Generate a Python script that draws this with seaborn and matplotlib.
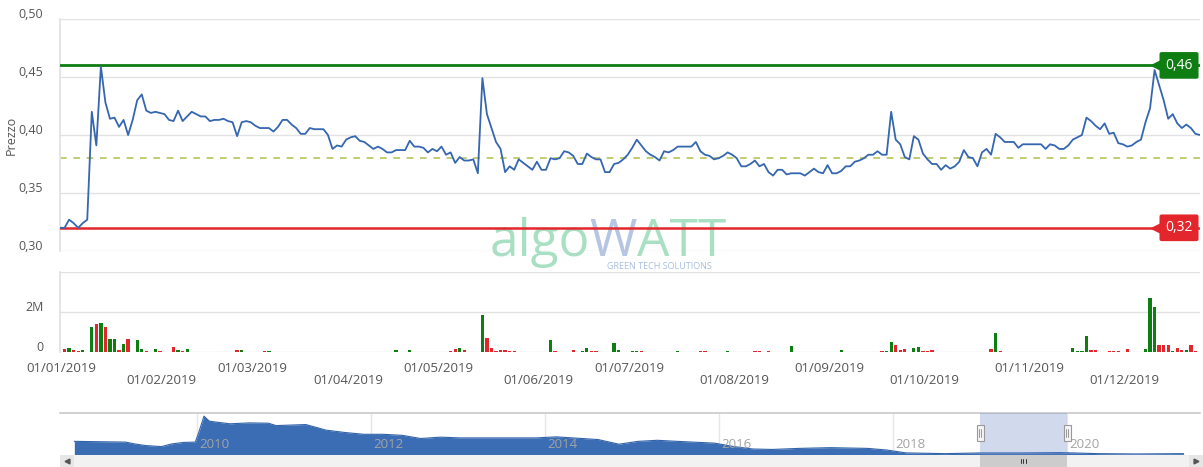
import numpy as np
import pandas as pd
import matplotlib
matplotlib.use("Agg")
import matplotlib.pyplot as plt
import matplotlib.transforms as mtransforms
from matplotlib.patches import Rectangle
from matplotlib.lines import Line2D
import seaborn as sns

# ---------------- data ----------------
holidays = ["2019-01-01", "2019-04-19", "2019-04-22", "2019-05-01", "2019-08-15",
            "2019-12-24", "2019-12-25", "2019-12-26", "2019-12-31"]
trade_dates = pd.bdate_range("2019-01-02", "2019-12-30", freq="C", holidays=holidays)

price = [
    0.320, 0.320, 0.327, 0.324, 0.320, 0.324, 0.327, 0.420, 0.391, 0.459,
    0.428, 0.414, 0.415, 0.407, 0.413, 0.400, 0.413, 0.430, 0.435, 0.421,
    0.419, 0.420, 0.419, 0.418, 0.413, 0.412, 0.421, 0.412, 0.416, 0.420,
    0.418, 0.416, 0.416, 0.412, 0.413, 0.413, 0.414, 0.412, 0.411, 0.399,
    0.411, 0.412, 0.411, 0.408, 0.406, 0.406, 0.406, 0.403, 0.407, 0.413,
    0.413, 0.409, 0.406, 0.401, 0.401, 0.406, 0.405, 0.405, 0.405, 0.400,
    0.388, 0.391, 0.390, 0.396, 0.398, 0.399, 0.395, 0.394, 0.391, 0.388,
    0.390, 0.388, 0.385, 0.385, 0.387, 0.387, 0.387, 0.395, 0.390, 0.390,
    0.389, 0.385, 0.388, 0.386, 0.390, 0.383, 0.385, 0.376, 0.381, 0.378,
    0.378, 0.379, 0.367, 0.449, 0.418, 0.406, 0.394, 0.388, 0.368, 0.373,
    0.370, 0.379, 0.376, 0.373, 0.370, 0.377, 0.370, 0.370, 0.380, 0.379,
    0.380, 0.386, 0.385, 0.382, 0.375, 0.375, 0.384, 0.381, 0.379, 0.379,
    0.368, 0.368, 0.375, 0.376, 0.379, 0.383, 0.389, 0.396, 0.391, 0.386,
    0.383, 0.381, 0.378, 0.386, 0.385, 0.387, 0.390, 0.390, 0.390, 0.390,
    0.394, 0.386, 0.383, 0.382, 0.379, 0.380, 0.382, 0.385, 0.383, 0.380,
    0.373, 0.373, 0.375, 0.378, 0.373, 0.375, 0.368, 0.365, 0.370, 0.370,
    0.366, 0.367, 0.367, 0.367, 0.365, 0.368, 0.371, 0.368, 0.367, 0.374,
    0.367, 0.367, 0.369, 0.373, 0.373, 0.377, 0.378, 0.380, 0.383, 0.383,
    0.386, 0.383, 0.383, 0.420, 0.396, 0.392, 0.381, 0.379, 0.399, 0.396,
    0.384, 0.379, 0.375, 0.375, 0.370, 0.374, 0.371, 0.373, 0.377, 0.387,
    0.381, 0.380, 0.373, 0.385, 0.388, 0.383, 0.401, 0.398, 0.394, 0.394,
    0.394, 0.389, 0.392, 0.392, 0.392, 0.392, 0.392, 0.388, 0.392, 0.391,
    0.388, 0.388, 0.391, 0.396, 0.398, 0.400, 0.415, 0.412, 0.408, 0.405,
    0.410, 0.401, 0.402, 0.393, 0.392, 0.390, 0.391, 0.394, 0.396, 0.411,
    0.423, 0.456, 0.443, 0.430, 0.414, 0.418, 0.410, 0.406, 0.409, 0.406,
    0.401, 0.400,
]

resistance = 0.46
support = 0.32
avg_level = 0.38

vol_day = [1, 2, 3, 4, 5, 7, 8, 9, 10, 11, 12, 13, 14, 15, 17, 18, 19, 21, 22, 25,
           26, 27, 28, 39, 40, 45, 46, 54, 60, 63, 74, 77, 86, 87, 88, 89, 93, 94, 95, 96,
           97, 98, 99, 100, 105, 108, 109, 113, 115, 116, 117, 118, 121, 122, 123, 126, 127, 128, 136, 141,
           142, 147, 153, 154, 156, 161, 172, 181, 182, 183, 184, 185, 186, 188, 189, 190, 191, 192, 194, 196,
           200, 203, 205, 206, 207, 210, 213, 215, 216, 220, 223, 224, 225, 226, 227, 228, 231, 232, 233, 235,
           239, 240, 241, 242, 243, 244, 245, 246, 247, 248, 249, 250]
vol_mln = [0.13, 0.20, 0.10, 0.05, 0.10, 1.25, 1.40, 1.47, 1.25, 0.67, 0.67, 0.10, 0.42, 0.67, 0.62, 0.17, 0.03, 0.17, 0.03, 0.27,
           0.10, 0.05, 0.17, 0.08, 0.12, 0.07, 0.03, 0.02, 0.02, 0.02, 0.10, 0.08, 0.05, 0.17, 0.20, 0.08, 1.87, 0.68, 0.20, 0.07,
           0.08, 0.12, 0.05, 0.07, 0.02, 0.58, 0.03, 0.12, 0.03, 0.22, 0.03, 0.03, 0.02, 0.45, 0.08, 0.03, 0.03, 0.03, 0.07, 0.05,
           0.07, 0.03, 0.03, 0.03, 0.03, 0.28, 0.08, 0.07, 0.07, 0.48, 0.33, 0.08, 0.17, 0.20, 0.25, 0.07, 0.05, 0.12, 0.02, 0.02,
           0.02, 0.02, 0.17, 0.95, 0.05, 0.02, 0.02, 0.02, 0.02, 0.02, 0.20, 0.07, 0.07, 0.78, 0.08, 0.10, 0.03, 0.03, 0.03, 0.17,
           0.17, 2.70, 2.25, 0.33, 0.33, 0.37, 0.05, 0.20, 0.12, 0.10, 0.35, 0.05]
vol_dir = ["r", "g", "r", "r", "g", "g", "r", "g", "r", "g", "g", "r", "g", "r", "g", "g", "r", "g", "r", "r",
           "g", "r", "g", "r", "g", "r", "g", "g", "r", "g", "g", "g", "r", "r", "g", "r", "g", "r", "r", "r",
           "r", "r", "r", "r", "g", "g", "r", "r", "g", "g", "r", "r", "g", "g", "g", "g", "g", "r", "g", "r",
           "r", "g", "r", "r", "r", "g", "g", "r", "g", "g", "r", "r", "r", "g", "g", "r", "r", "r", "g", "g",
           "g", "g", "r", "g", "r", "g", "g", "g", "g", "r", "g", "g", "g", "g", "r", "r", "r", "r", "r", "r",
           "g", "g", "g", "r", "r", "r", "g", "r", "r", "g", "r", "r"]

price_ticks = [0.30, 0.35, 0.40, 0.45, 0.50]
vol_ticks = [0, 2, 4]
vol_tick_labels = ["0", "2M", ""]
month_labels = ["01/01/2019", "01/02/2019", "01/03/2019", "01/04/2019", "01/05/2019", "01/06/2019",
                "01/07/2019", "01/08/2019", "01/09/2019", "01/10/2019", "01/11/2019", "01/12/2019"]

nav_year = [2008.59, 2009.18, 2009.28, 2009.41, 2009.59, 2009.71, 2009.85, 2009.98, 2010.02, 2010.08,
            2010.14, 2010.21, 2010.38, 2010.60, 2010.82, 2010.91, 2011.25, 2011.37, 2011.48, 2011.70,
            2011.92, 2012.14, 2012.36, 2012.57, 2012.80, 2013.02, 2013.46, 2013.90, 2014.13, 2014.61,
            2014.85, 2015.07, 2015.29, 2015.52, 2015.95, 2016.17, 2016.39, 2016.61, 2016.92, 2017.28,
            2017.71, 2017.93, 2018.15, 2018.60, 2019.03, 2019.47, 2019.92, 2020.36, 2020.79, 2021.34]
nav_val = [0.755, 0.73, 0.67, 0.615, 0.58, 0.67, 0.72, 0.73, 1.05, 1.595,
           1.43, 1.40, 1.34, 1.37, 1.36, 1.28, 1.315, 1.22, 1.13, 1.05,
           0.99, 0.99, 0.955, 0.85, 0.895, 0.87, 0.87, 0.87, 0.905, 0.815,
           0.66, 0.755, 0.79, 0.755, 0.695, 0.58, 0.50, 0.485, 0.52, 0.545,
           0.52, 0.465, 0.37, 0.345, 0.37, 0.37, 0.38, 0.345, 0.335, 0.345]
nav_year_ticks = [2010, 2012, 2014, 2016, 2018, 2020]
sel_start, sel_end = 2019.0, 2020.0

# ---------------- style ----------------
sns.set_theme(style="white")
plt.rcParams["font.family"] = ["Open Sans", "DejaVu Sans"]

GREEN = "#0e7d12"
RED = "#e2262c"
LINE = "#3566b0"
GRID = "#e2e2e2"
TXT = "#555555"

W, H = 1203, 467
fig = plt.figure(figsize=(W / 100, H / 100), dpi=100)


def rect(l, t, r, b):
    return [l / W, 1 - b / H, (r - l) / W, (b - t) / H]


ax_p = fig.add_axes(rect(60, 19, 1200, 251))
ax_v = fig.add_axes(rect(60, 272, 1200, 352))
ax_n = fig.add_axes(rect(60, 413, 1200, 455))
ax_s = fig.add_axes(rect(60, 455, 1203, 467))

label_shift = mtransforms.ScaledTranslation(0, 4 / 72, fig.dpi_scale_trans)

# ---------------- price panel ----------------
n = len(price)
df = pd.DataFrame({"idx": np.arange(n), "price": price})
sns.lineplot(data=df, x="idx", y="price", ax=ax_p, color=LINE, linewidth=1.3, zorder=4)
ax_p.axhline(resistance, color=GREEN, lw=2.0, zorder=3)
ax_p.axhline(support, color=RED, lw=1.8, zorder=3)
ax_p.axhline(avg_level, color="#b7c35a", lw=1.2, ls=(0, (4, 4)), zorder=2)
ax_p.set_xlim(0, n - 1)
ax_p.set_ylim(0.30, 0.50)
ax_p.set_yticks(price_ticks)
ax_p.set_yticklabels([f"{t:.2f}".replace(".", ",") for t in price_ticks])
ax_p.yaxis.grid(True, color=GRID, lw=1)
ax_p.xaxis.grid(False)
ax_p.set_xlabel("")
ax_p.set_ylabel("Prezzo", color=TXT, fontsize=9)
ax_p.yaxis.set_label_coords(-0.037, 0.5)
ax_p.tick_params(left=False, bottom=False, labelbottom=False, labelsize=9,
                 labelcolor=TXT, pad=6)
for lab in ax_p.get_yticklabels():
    lab.set_transform(lab.get_transform() + label_shift)
for s in ["top", "right", "bottom"]:
    ax_p.spines[s].set_visible(False)
ax_p.spines["left"].set_color(GRID)

# flags for levels
bt = mtransforms.blended_transform_factory(ax_p.transAxes, ax_p.transData)
for val, col in [(resistance, GREEN), (support, RED)]:
    ax_p.text(0.9816, val, f"{val:.2f}".replace(".", ","), transform=bt, ha="center",
              va="center", color="white", fontsize=10, zorder=6, clip_on=False,
              bbox=dict(boxstyle="round,pad=0.42,rounding_size=0.15", fc=col, ec="none"))
    ax_p.plot([0.9615], [val], marker="<", color=col, markersize=7, transform=bt,
              clip_on=False, zorder=6)

# watermark (pieces chained one after another)
wm_algo = ax_p.text(0.4645, -0.075, "algo", transform=ax_p.transAxes, ha="right",
                    va="bottom", fontsize=37, color="#a9e0c4", zorder=1, clip_on=False)
wm_w = ax_p.annotate("W", xy=(1, 0), xycoords=wm_algo, ha="left", va="bottom",
                     fontsize=37, color="#b6c5e2", zorder=1, annotation_clip=False)
wm_att = ax_p.annotate("ATT", xy=(1, 0), xycoords=wm_w, ha="left", va="bottom",
                       fontsize=37, color="#a9e0c4", zorder=1, annotation_clip=False)
ax_p.text(0.526, -0.068, "GREEN TECH SOLUTIONS", transform=ax_p.transAxes, ha="center",
          va="center", fontsize=6.5, color="#a9bde0", zorder=1, clip_on=False)

# ---------------- volume panel ----------------
colors = [GREEN if d == "g" else RED for d in vol_dir]
ax_v.bar(vol_day, vol_mln, width=0.72, color=colors, linewidth=0, zorder=3)
ax_v.set_xlim(0, n - 1)
ax_v.set_ylim(0, 4)
ax_v.set_yticks(vol_ticks)
ax_v.set_yticklabels(vol_tick_labels)
ax_v.yaxis.grid(True, color=GRID, lw=1)
ax_v.xaxis.grid(False)
ax_v.tick_params(left=False, bottom=False, labelbottom=False, labelsize=9,
                 labelcolor=TXT, pad=6)
for lab in ax_v.get_yticklabels():
    lab.set_transform(lab.get_transform() + label_shift)
for s in ["top", "right", "bottom"]:
    ax_v.spines[s].set_visible(False)
ax_v.spines["left"].set_color(GRID)

month_starts = pd.date_range("2019-01-01", periods=12, freq="MS")
month_idx = [int(np.searchsorted(trade_dates.values, m.to_datetime64())) for m in month_starts]
bx = mtransforms.blended_transform_factory(ax_v.transData, ax_v.transAxes)
for k, (mi, lab) in enumerate(zip(month_idx, month_labels)):
    yy = -0.20 if k % 2 == 0 else -0.35
    ax_v.text(mi + 0.4, yy, lab, transform=bx, ha="center", va="center", fontsize=9.5,
              color=TXT, clip_on=False)

# ---------------- navigator ----------------
x0 = 2010 - (197 - 60) / 87
x1 = 2010 + (1200 - 197) / 87
ax_n.fill_between(nav_year, nav_val, 0.30, color="#3b6db4", lw=0, zorder=2)
ax_n.plot(nav_year, nav_val, color="#3263aa", lw=0.8, zorder=2)
ax_n.set_xlim(x0, x1)
ax_n.set_ylim(0.30, 1.70)
ax_n.vlines(nav_year_ticks, 0.30, 1.70, color="#e6e6e6", lw=1, zorder=1)
for yr in nav_year_ticks:
    ax_n.text(yr + 2.5 / 87, 0.30 + 10 / 42 * 1.4, str(yr), ha="left", va="center",
              fontsize=9.5, color="#a3a3a3", zorder=5)
ax_n.axvspan(sel_start, sel_end, color="#6685c2", alpha=0.3, lw=0, zorder=4)
ax_n.set_xticks([])
ax_n.set_yticks([])
for s in ["left", "right", "bottom"]:
    ax_n.spines[s].set_visible(False)
ax_n.spines["top"].set_color("#cccccc")
ax_n.set_facecolor("white")

# handles
for xv in (sel_start, sel_end):
    px = ax_n.transData.transform((xv, 0.3))[0]
    fx = px / fig.bbox.width
    hw, hh = 7 / W, 16 / H
    fy = 1 - 441 / H
    fig.add_artist(Rectangle((fx - hw / 2, fy), hw, hh, transform=fig.transFigure,
                             fc="#f5f5f5", ec="#999999", lw=0.8, zorder=10))
    for dx in (-1.2, 1.2):
        fig.add_artist(Line2D([fx + dx / W] * 2, [1 - 437 / H, 1 - 429 / H],
                              transform=fig.transFigure, color="#888888", lw=0.6, zorder=11))

# ---------------- scrollbar ----------------
sx1 = x0 + (1203 - 60) / 87
ax_s.set_xlim(x0, sx1)
ax_s.set_ylim(0, 1)
ax_s.set_facecolor("#f2f2f2")
ax_s.axvspan(x0, x0 + 14 / 87, color="#e6e6e6", lw=0)
ax_s.axvspan(sx1 - 14 / 87, sx1, color="#e6e6e6", lw=0)
ax_s.axvspan(sel_start, sel_end, color="#cccccc", lw=0)
mid = (sel_start + sel_end) / 2
for dx in (-2.5, 0, 2.5):
    ax_s.plot([mid + dx / 87] * 2, [0.3, 0.7], color="#333333", lw=0.7)
ax_s.plot([x0 + 7 / 87], [0.5], marker="<", color="#555555", markersize=3.5)
ax_s.plot([sx1 - 7 / 87], [0.5], marker=">", color="#555555", markersize=3.5)
ax_s.set_xticks([])
ax_s.set_yticks([])
for s in ax_s.spines.values():
    s.set_visible(False)

fig.savefig("out.png", dpi=100)
